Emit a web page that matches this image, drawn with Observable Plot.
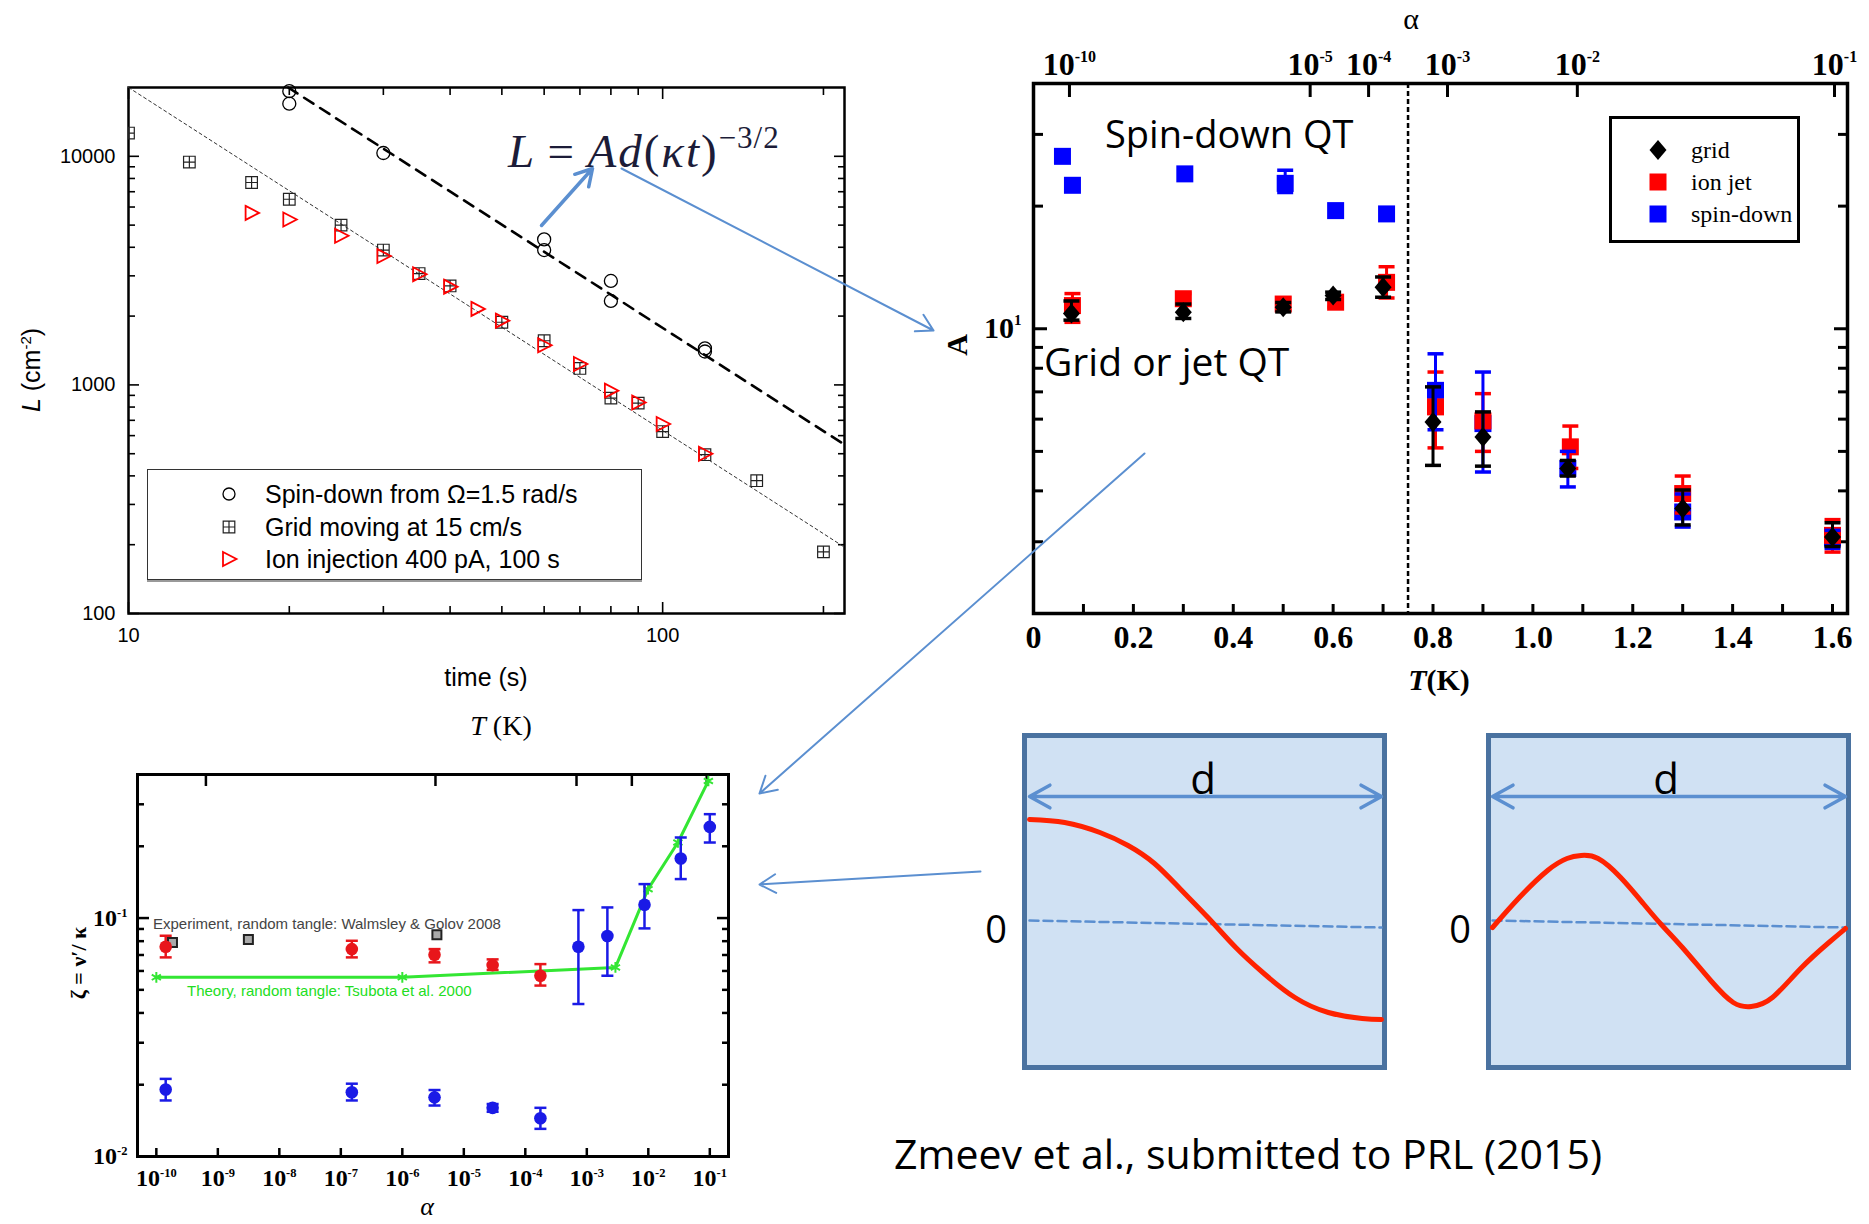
<!DOCTYPE html>
<html><head><meta charset="utf-8">
<script src="https://cdn.jsdelivr.net/npm/d3@7"></script>
<script src="https://cdn.jsdelivr.net/npm/@observablehq/plot@0.6"></script>
<style>
body{margin:0;background:#fff;}
#page{position:relative;width:1869px;height:1224px;overflow:hidden;background:#fff;}
</style></head><body><div id="page"></div>
<script>
// ================= DATA =================
// Panel 1: L(t)
const spinTime = [20, 20, 30, 60, 60, 80, 80, 120, 120];
const spinL    = [19280, 16990, 10340, 4330, 3890, 2850, 2330, 1445, 1400];
const gridTime = [10, 13, 17, 20, 25, 30, 35, 40, 50, 60, 70, 80, 90, 100, 120, 150, 200];
const gridL    = [12640, 9440, 7680, 6490, 5000, 3890, 3070, 2710, 1880, 1560, 1180, 875, 832, 625, 495, 381, 186];
const ionTime  = [17, 20, 25, 30, 35, 40, 45, 50, 60, 70, 80, 90, 100, 120];
const ionL     = [5655, 5290, 4490, 3660, 3050, 2690, 2150, 1910, 1490, 1235, 944, 837, 675, 500];
const spinFitTime = [19.9, 219], spinFitL = [20000, 548];
const gridFitTime = [10, 219],   gridFitL = [20000, 195];
const p1XTicks = [10, 100], p1XTickLabels = ["10", "100"];
const p1YTicks = [100, 1000, 10000], p1YTickLabels = ["100", "1000", "10000"];
const p1LegendLabels = ["Spin-down from \u03A9=1.5 rad/s", "Grid moving at 15 cm/s", "Ion injection 400 pA, 100 s"];

// Panel 2: A(T)
const gridT  = [0.076, 0.30, 0.50, 0.60, 0.70, 0.80, 0.90, 1.07, 1.30, 1.60];
const gridA  = [10.9, 10.98, 11.3, 12.07, 12.65, 5.90, 5.42, 4.54, 3.62, 3.08];
const gridLo = [10.5, 10.6, 11.0, 11.8, 11.95, 4.62, 4.6, 4.35, 3.3, 2.92];
const gridHi = [11.7, 11.5, 11.6, 12.3, 13.4, 7.2, 6.25, 4.75, 4.02, 3.34];
const jetT   = [0.078, 0.30, 0.50, 0.605, 0.707, 0.805, 0.90, 1.075, 1.30, 1.60];
const jetA   = [11.4, 11.85, 11.5, 11.62, 13.0, 6.43, 5.94, 5.13, 3.94, 3.11];
const jetLo  = [10.37, 11.5, 11.1, 11.3, 11.9, 5.1, 5.0, 4.54, 3.53, 2.83];
const jetHi  = [12.2, 12.2, 11.9, 12.0, 14.2, 7.83, 6.93, 5.77, 4.35, 3.40];
const sdT    = [0.058, 0.078, 0.303, 0.504, 0.605, 0.707, 0.805, 0.90, 1.07, 1.30, 1.60];
const sdA    = [26.5, 22.5, 24.0, 22.75, 19.5, 19.14, 7.06, 5.85, 4.54, 3.55, 3.06];
const sdLo   = [null, null, null, 21.6, null, null, 5.65, 4.45, 4.09, 3.26, 2.89];
const sdHi   = [null, null, null, 24.5, null, null, 8.68, 7.83, 5.0, 3.93, 3.2];
const p2Boundary = [0.75];
const p2TTicks = [0, 0.2, 0.4, 0.6, 0.8, 1.0, 1.2, 1.4, 1.6];
const p2TTickLabels = ["0", "0.2", "0.4", "0.6", "0.8", "1.0", "1.2", "1.4", "1.6"];
const p2TMinor = [0.1, 0.3, 0.5, 0.7, 0.9, 1.1, 1.3, 1.5];
const p2AlphaTickT = [0.072, 0.554, 0.671, 0.829, 1.089, 1.604];
const p2AlphaTickLabels = ["10^-10", "10^-5", "10^-4", "10^-3", "10^-2", "10^-1"];
const p2YTicks = [10], p2YTickLabels = ["10^1"];
const p2YMinor = [2, 3, 4, 5, 6, 7, 8, 9, 20, 30];
const p2LegendLabels = ["grid", "ion jet", "spin-down"];

// Panel 3: zeta(alpha)
const jetAlpha = [1.42e-10, 1.51e-7, 3.34e-6, 2.94e-5, 1.76e-4];
const jetZeta  = [0.0758, 0.0741, 0.0702, 0.0635, 0.0573];
const jetZLo   = [0.0684, 0.0684, 0.0652, 0.0606, 0.0521];
const jetZHi   = [0.0843, 0.0803, 0.0741, 0.0671, 0.0641];
const sdAlpha  = [1.42e-10, 1.51e-7, 3.34e-6, 2.94e-5, 1.76e-4, 7.3e-4, 2.16e-3, 8.67e-3, 0.0337, 0.1];
const sdZeta   = [0.0191, 0.0186, 0.0177, 0.0160, 0.01447, 0.0758, 0.0841, 0.1137, 0.1777, 0.2412];
const sdZLo    = [0.01718, 0.01718, 0.01636, 0.0154, 0.01306, 0.0436, 0.0573, 0.0905, 0.1457, 0.2074];
const sdZHi    = [0.02116, 0.0202, 0.0190, 0.0166, 0.0160, 0.108, 0.1108, 0.1388, 0.2177, 0.2727];
const wgAlpha  = [1.83e-10, 3.14e-9, 3.65e-6];
const wgZeta   = [0.079, 0.0813, 0.0851];
const thAlpha  = [1e-10, 1e-6, 2.92e-3, 9.9e-3, 0.0303, 0.0948];
const thZeta   = [0.0564, 0.0564, 0.0621, 0.1322, 0.2074, 0.3759];
const p3XTicks = [1e-10, 1e-9, 1e-8, 1e-7, 1e-6, 1e-5, 1e-4, 1e-3, 1e-2, 1e-1];
const p3XTickLabels = ["10^-10", "10^-9", "10^-8", "10^-7", "10^-6", "10^-5", "10^-4", "10^-3", "10^-2", "10^-1"];
const p3YTicks = [0.01, 0.1], p3YTickLabels = ["10^-2", "10^-1"];
const p3TopAlpha = [6.4e-10, 3.46e-6, 6.8e-4, 5.4e-3, 8.9e-2];
const p3TopLabels = ["0.1", "0.5", "0.8", "1.0", "1.6"];

// Panel 4: sketches (x as fraction of d, y in arbitrary units)
const sk1F = [0.00, 0.10, 0.20, 0.28, 0.355, 0.427, 0.507, 0.586, 0.666, 0.754, 0.849, 0.945, 1.0];
const sk1V = [1.03, 1.00, 0.90, 0.77, 0.59, 0.34, 0.05, -0.25, -0.51, -0.75, -0.90, -0.96, -0.97];
const sk2F = [0.0, 0.076, 0.156, 0.211, 0.251, 0.299, 0.363, 0.427, 0.478, 0.538, 0.618, 0.682, 0.733, 0.793, 0.873, 0.953, 1.0];
const sk2V = [-0.05, 0.25, 0.52, 0.64, 0.67, 0.64, 0.45, 0.19, -0.02, -0.25, -0.58, -0.80, -0.84, -0.75, -0.46, -0.20, -0.06];
const skZeroF = [0, 1], skZeroV = [0.02, -0.05];
const skDLevel = 1.26;

// ================= HELPERS =================
const page = document.getElementById("page");
function addSvg(svg, left, top) {
  svg.style.position = "absolute"; svg.style.left = left + "px"; svg.style.top = top + "px";
  svg.style.maxWidth = "none"; page.appendChild(svg);
}
function textAt(html, x, y, css, opts = {}) {
  const d = document.createElement("div");
  d.innerHTML = html;
  const tx = opts.align === "left" ? "0" : "-50%";
  d.style.cssText = `position:absolute;left:${x}px;top:${y}px;transform:translate(${tx},-50%)${opts.rotate ? ` rotate(${opts.rotate}deg)` : ""};white-space:nowrap;line-height:1;${css}`;
  page.appendChild(d);
  return d;
}
// turn "10^-10" labels into real superscripts with tspans
function supify(svg, rise, scale) {
  const ns = "http://www.w3.org/2000/svg";
  svg.querySelectorAll("text").forEach(t => {
    const m = t.textContent.match(/^(\d+)\^(-?\d+)$/);
    if (!m) return;
    t.textContent = "";
    const b = document.createElementNS(ns, "tspan"); b.textContent = m[1]; t.appendChild(b);
    const e = document.createElementNS(ns, "tspan"); e.textContent = m[2];
    e.setAttribute("dy", -rise); e.setAttribute("font-size", scale + "em"); t.appendChild(e);
  });
}
const zip = (xs, ys, kx = "x", ky = "y") => xs.map((v, i) => ({[kx]: v, [ky]: ys[i]}));
const labelMap = (ticks, labels) => { const m = new Map(ticks.map((t, i) => [t, labels[i]])); return d => m.get(d) ?? ""; };
function logMinor(lo, hi) {
  const out = [];
  for (let e = Math.floor(Math.log10(lo)); e <= Math.ceil(Math.log10(hi)); e++)
    for (let k = 2; k <= 9; k++) { const v = k * Math.pow(10, e); if (v > lo * 1.0001 && v < hi * 0.9999) out.push(v); }
  return out;
}
const none = () => "";
function tickAxes(axisFn, anchors, ticks, size, sw) {
  return anchors.map(a => axisFn({anchor: a, ticks, tickSize: -size, tickFormat: none, label: null, strokeWidth: sw}));
}
// custom symbols
const sqCross = {draw(c) { const s = 5.8; c.moveTo(-s, -s); c.lineTo(s, -s); c.lineTo(s, s); c.lineTo(-s, s); c.closePath(); c.moveTo(-s, 0); c.lineTo(s, 0); c.moveTo(0, -s); c.lineTo(0, s); }};
const triRight = {draw(c) { c.moveTo(-6, -7); c.lineTo(7.5, 0); c.lineTo(-6, 7); c.closePath(); }};
const diamondSym = {draw(c) { c.moveTo(0, -10); c.lineTo(8.5, 0); c.lineTo(0, 10); c.lineTo(-8.5, 0); c.closePath(); }};
const squareSym = s => ({draw(c) { c.rect(-s, -s, 2 * s, 2 * s); }});
const capSym = w => ({draw(c) { c.moveTo(-w, 0); c.lineTo(w, 0); }});

const sans = "'Liberation Sans', Arial, sans-serif";
const serif = "'Liberation Serif', 'Times New Roman', serif";
const cal = "'Open Sans', 'Noto Sans', sans-serif";

// ================= PANEL 1 =================
{
  const p1XMinor = logMinor(10, 219), p1YMinor = logMinor(100, 20000);
  const spin = zip(spinTime, spinL, "t", "L"), grid = zip(gridTime, gridL, "t", "L"), ion = zip(ionTime, ionL, "t", "L");
  const p1 = Plot.plot({
    width: 870, height: 700, marginLeft: 128, marginRight: 26, marginTop: 87, marginBottom: 87,
    style: {background: "transparent", color: "#000", fontFamily: sans, overflow: "visible"},
    x: {type: "log", domain: [10, 219], axis: null},
    y: {type: "log", domain: [100, 20000], axis: null},
    marks: [
      ...tickAxes(Plot.axisX, ["bottom", "top"], p1XTicks, 11, 1.6),
      ...tickAxes(Plot.axisX, ["bottom", "top"], p1XMinor, 7, 1.6),
      ...tickAxes(Plot.axisY, ["left", "right"], p1YTicks, 11, 1.6),
      ...tickAxes(Plot.axisY, ["left", "right"], p1YMinor, 7, 1.6),
      Plot.axisX({anchor: "bottom", ticks: p1XTicks, tickSize: 0, tickPadding: 14, tickFormat: labelMap(p1XTicks, p1XTickLabels), fontSize: 20, label: null}),
      Plot.axisY({anchor: "left", ticks: p1YTicks, tickSize: 0, tickPadding: 13, tickFormat: labelMap(p1YTicks, p1YTickLabels), fontSize: 20, label: null}),
      Plot.frame({stroke: "#000", strokeWidth: 2.5}),
      Plot.line(zip(gridFitTime, gridFitL, "t", "L"), {x: "t", y: "L", stroke: "#333", strokeWidth: 1, strokeDasharray: "3,3"}),
      Plot.line(zip(spinFitTime, spinFitL, "t", "L"), {x: "t", y: "L", stroke: "#000", strokeWidth: 2.6, strokeDasharray: "11,8"}),
      Plot.dot(grid, {x: "t", y: "L", symbol: sqCross, r: 5, fill: "none", stroke: "#222", strokeWidth: 1.2, clip: true}),
      Plot.dot(spin, {x: "t", y: "L", r: 6.5, fill: "none", stroke: "#000", strokeWidth: 1.3}),
      Plot.dot(ion, {x: "t", y: "L", symbol: triRight, r: 5, fill: "none", stroke: "#ff0000", strokeWidth: 1.8})
    ]
  });
  addSvg(p1, 0, 0);
  textAt("time (s)", 486, 677, `font-family:${sans};font-size:25px;`);
  textAt("<i>L</i> (cm<sup style='font-size:15px;vertical-align:9px'>-2</sup>)", 31, 370, `font-family:${sans};font-size:25px;`, {rotate: -90});
  const lg = document.createElement("div");
  lg.style.cssText = "position:absolute;left:147px;top:469px;width:495px;height:111px;border:1.5px solid #333;box-sizing:border-box;box-shadow:0 2px 0 #999;";
  const sw = [
    `<circle cx="10" cy="10" r="6" fill="none" stroke="#000" stroke-width="1.3"/>`,
    `<path d="M4.2,4.2H15.8V15.8H4.2Z M4.2,10H15.8 M10,4.2V15.8" fill="none" stroke="#222" stroke-width="1.2"/>`,
    `<path d="M4,3L17.5,10L4,17Z" fill="none" stroke="#ff0000" stroke-width="1.8"/>`
  ];
  [24, 57, 89].forEach((cy, i) => {
    lg.insertAdjacentHTML("beforeend", `<svg width="20" height="20" style="position:absolute;left:71px;top:${cy - 10}px">${sw[i]}</svg>`);
    lg.insertAdjacentHTML("beforeend", `<div style="position:absolute;left:117px;top:${cy}px;transform:translateY(-50%);font-family:${sans};font-size:25px;line-height:1;white-space:nowrap">${p1LegendLabels[i]}</div>`);
  });
  page.appendChild(lg);
  textAt("<i>L</i>&#8201;=&#8201;<i>Ad</i>(<i>\u03BAt</i>)<sup style='font-size:31px;vertical-align:19px;font-style:normal;letter-spacing:1px'>\u22123/2</sup>", 508, 148,
    `font-family:${serif};font-size:47px;color:#1c1c38;letter-spacing:2px;`, {align: "left"});
}

// ================= PANEL 2 =================
{
  const rows = (T, A, lo, hi) => T.map((t, i) => ({T: t, A: A[i], lo: lo[i], hi: hi[i]}));
  const g = rows(gridT, gridA, gridLo, gridHi), j = rows(jetT, jetA, jetLo, jetHi), s = rows(sdT, sdA, sdLo, sdHi);
  const withErr = d => d.filter(r => r.lo != null && r.hi != null);
  const errMarks = (d, color) => [
    Plot.ruleX(withErr(d), {x: "T", y1: "lo", y2: "hi", stroke: color, strokeWidth: 3}),
    Plot.dot(withErr(d), {x: "T", y: "lo", symbol: capSym(8), r: 5, fill: "none", stroke: color, strokeWidth: 3.5}),
    Plot.dot(withErr(d), {x: "T", y: "hi", symbol: capSym(8), r: 5, fill: "none", stroke: color, strokeWidth: 3.5})
  ];
  const p2 = Plot.plot({
    width: 909, height: 700, marginLeft: 73, marginRight: 22, marginTop: 83, marginBottom: 87,
    style: {background: "transparent", color: "#000", fontFamily: serif, overflow: "visible"},
    x: {domain: [0, 1.63], axis: null},
    y: {type: "log", domain: [2, 40], axis: null},
    marks: [
      ...tickAxes(Plot.axisX, ["bottom"], p2TTicks.concat(p2TMinor), 9, 3),
      ...tickAxes(Plot.axisX, ["top"], p2AlphaTickT, 13, 3),
      ...tickAxes(Plot.axisY, ["left", "right"], p2YTicks, 14, 3),
      ...tickAxes(Plot.axisY, ["left", "right"], p2YMinor, 10, 3),
      Plot.axisX({anchor: "bottom", ticks: p2TTicks, tickSize: 0, tickPadding: 12, tickFormat: labelMap(p2TTicks, p2TTickLabels), fontSize: 32, fontWeight: "bold", label: null}),
      Plot.axisX({anchor: "top", ticks: p2AlphaTickT, tickSize: 0, tickPadding: 9, tickFormat: labelMap(p2AlphaTickT, p2AlphaTickLabels), fontSize: 32, fontWeight: "bold", label: null}),
      Plot.axisY({anchor: "left", ticks: p2YTicks, tickSize: 0, tickPadding: 12, tickFormat: labelMap(p2YTicks, p2YTickLabels), fontSize: 30, fontWeight: "bold", label: null}),
      Plot.ruleX(p2Boundary, {stroke: "#000", strokeWidth: 2.5, strokeDasharray: "5,3"}),
      Plot.frame({stroke: "#000", strokeWidth: 3.5}),
      Plot.dot(s, {x: "T", y: "A", symbol: squareSym(8.5), r: 5, fill: "#0000ff", stroke: "none"}),
      Plot.dot(j, {x: "T", y: "A", symbol: squareSym(8.5), r: 5, fill: "#ff0000", stroke: "none"}),
      ...errMarks(j, "#ff0000"),
      ...errMarks(s, "#0000ff"),
      ...errMarks(g, "#000"),
      Plot.dot(g, {x: "T", y: "A", symbol: diamondSym, r: 5, fill: "#000", stroke: "none"})
    ]
  });
  supify(p2, 13, 0.5);
  addSvg(p2, 960, 0);
  textAt("\u03B1", 1411, 19, `font-family:${serif};font-size:30px;`);
  textAt("<i>T</i>(K)", 1439, 680, `font-family:${serif};font-size:30px;font-weight:bold;`);
  textAt("A", 957, 345, `font-family:${serif};font-size:30px;font-weight:bold;`, {rotate: -90});
  textAt("Spin-down QT", 1105, 133, `font-family:${cal};font-size:38px;`, {align: "left"});
  textAt("Grid or jet QT", 1044, 360, `font-family:${cal};font-size:39px;`, {align: "left"});
  const lg = document.createElement("div");
  lg.style.cssText = "position:absolute;left:1609px;top:116px;width:191px;height:127px;border:3.5px solid #000;box-sizing:border-box;";
  const sw = [
    `<path d="M11,1L19.5,11L11,21L2.5,11Z" fill="#000"/>`,
    `<rect x="2.5" y="2.5" width="17" height="17" fill="#ff0000"/>`,
    `<rect x="2.5" y="2.5" width="17" height="17" fill="#0000ff"/>`
  ];
  [31, 63, 95].forEach((cy, i) => {
    lg.insertAdjacentHTML("beforeend", `<svg width="22" height="22" style="position:absolute;left:35px;top:${cy - 11}px">${sw[i]}</svg>`);
    lg.insertAdjacentHTML("beforeend", `<div style="position:absolute;left:79px;top:${cy}px;transform:translateY(-50%);font-family:${serif};font-size:24px;line-height:1;white-space:nowrap">${p2LegendLabels[i]}</div>`);
  });
  page.appendChild(lg);
}

// ================= PANEL 3 =================
{
  const rows = (a, z, lo, hi) => a.map((v, i) => ({a: v, z: z[i], lo: lo ? lo[i] : null, hi: hi ? hi[i] : null}));
  const jet = rows(jetAlpha, jetZeta, jetZLo, jetZHi), sd = rows(sdAlpha, sdZeta, sdZLo, sdZHi);
  const wg = rows(wgAlpha, wgZeta), th = rows(thAlpha, thZeta);
  const errMarks = (d, color) => [
    Plot.ruleX(d, {x: "a", y1: "lo", y2: "hi", stroke: color, strokeWidth: 2.5}),
    Plot.dot(d, {x: "a", y: "lo", symbol: capSym(6), r: 4, fill: "none", stroke: color, strokeWidth: 2.5}),
    Plot.dot(d, {x: "a", y: "hi", symbol: capSym(6), r: 4, fill: "none", stroke: color, strokeWidth: 2.5})
  ];
  const p3YMinor = logMinor(0.01, 0.4);
  const p3 = Plot.plot({
    width: 760, height: 524, marginLeft: 137, marginRight: 32, marginTop: 74, marginBottom: 68,
    style: {background: "transparent", color: "#000", fontFamily: serif, overflow: "visible"},
    x: {type: "log", domain: [4.94e-11, 0.2014], axis: null},
    y: {type: "log", domain: [0.01, 0.4], axis: null},
    marks: [
      ...tickAxes(Plot.axisX, ["bottom"], p3XTicks, 8, 2.5),
      ...tickAxes(Plot.axisX, ["top"], p3TopAlpha, 11, 2.5),
      ...tickAxes(Plot.axisY, ["left", "right"], [0.1], 12, 2.5),
      ...tickAxes(Plot.axisY, ["left", "right"], p3YMinor, 7, 2.5),
      Plot.axisX({anchor: "bottom", ticks: p3XTicks, tickSize: 0, tickPadding: 12, tickFormat: labelMap(p3XTicks, p3XTickLabels), fontSize: 24, fontWeight: "bold", label: null}),
      Plot.axisX({anchor: "top", ticks: p3TopAlpha, tickSize: 0, tickPadding: 10, tickFormat: labelMap(p3TopAlpha, p3TopLabels), fontSize: 25, fontWeight: "bold", label: null}),
      Plot.axisY({anchor: "left", ticks: p3YTicks, tickSize: 0, tickPadding: 10, tickFormat: labelMap(p3YTicks, p3YTickLabels), fontSize: 24, fontWeight: "bold", label: null}),
      Plot.frame({stroke: "#000", strokeWidth: 3}),
      Plot.line(th, {x: "a", y: "z", stroke: "#33e633", strokeWidth: 3}),
      Plot.dot(th, {x: "a", y: "z", symbol: "asterisk", r: 5, stroke: "#33e633", strokeWidth: 2}),
      Plot.dot(wg, {x: "a", y: "z", symbol: squareSym(4.5), r: 4, fill: "#aaa", stroke: "#222", strokeWidth: 2}),
      ...errMarks(jet, "#e8161b"),
      ...errMarks(sd, "#1a1ae6"),
      Plot.dot(jet, {x: "a", y: "z", r: 6.3, fill: "#e8161b", stroke: "none"}),
      Plot.dot(sd, {x: "a", y: "z", r: 6.3, fill: "#1a1ae6", stroke: "none"})
    ]
  });
  supify(p3, 9, 0.52);
  addSvg(p3, 0, 700);
  textAt("<i>T</i> (K)", 501, 726, `font-family:${serif};font-size:28px;`);
  textAt("<i>\u03B1</i>", 427, 1207, `font-family:${serif};font-size:26px;`);
  textAt("\u03B6 = \u03BD\u2032/ \u03BA", 79, 963, `font-family:${serif};font-size:22px;font-weight:bold;`, {rotate: -90});
  textAt("Experiment, random tangle: Walmsley &amp; Golov 2008", 153, 923, `font-family:${sans};font-size:15px;color:#444;`, {align: "left"});
  textAt("Theory, random tangle: Tsubota et al. 2000", 187, 990, `font-family:${sans};font-size:15px;color:#22dd22;`, {align: "left"});
}

// ================= PANEL 4: sketches =================
function sketch(F, V, xDomain) {
  return Plot.plot({
    width: 370, height: 342, marginLeft: 5, marginRight: 5, marginTop: 5, marginBottom: 5,
    style: {background: "transparent", overflow: "visible"},
    x: {domain: xDomain, axis: null},
    y: {domain: [-1.45, 1.87], axis: null},
    marks: [
      Plot.frame({fill: "#d0e1f3", stroke: "#4a72a0", strokeWidth: 5}),
      Plot.line(zip(skZeroF, skZeroV), {x: "x", y: "y", stroke: "#5b8fd0", strokeWidth: 2.5, strokeDasharray: "9,5"}),
      Plot.line(zip(F, V), {x: "x", y: "y", curve: "natural", stroke: "#ff2200", strokeWidth: 5}),
      Plot.arrow([{x1: 0.5, x2: 0}, {x1: 0.5, x2: 1}], {x1: "x1", x2: "x2", y1: () => skDLevel, y2: () => skDLevel, stroke: "#5b8fd0", strokeWidth: 3.5, headLength: 10, headAngle: 58})
    ]
  });
}
addSvg(sketch(sk1F, sk1V, [-0.0142, 1.0085]), 1019, 730);
addSvg(sketch(sk2F, sk2V, [-0.0114, 1.0085]), 1483, 730);
textAt("d", 1203, 778, `font-family:${cal};font-size:42px;`);
textAt("d", 1666, 778, `font-family:${cal};font-size:42px;`);
textAt("0", 996, 928, `font-family:${cal};font-size:38px;`);
textAt("0", 1460, 928, `font-family:${cal};font-size:38px;`);
textAt("Zmeev et al., submitted to PRL (2015)", 894, 1153, `font-family:${cal};font-size:41px;`, {align: "left"});

// ================= connector arrows (annotation overlay) =================
{
  const ov = Plot.plot({
    width: 1869, height: 1224, margin: 0,
    style: {background: "transparent", overflow: "visible", pointerEvents: "none"},
    x: {type: "identity", axis: null}, y: {type: "identity", axis: null},
    marks: [
      Plot.arrow([{x1: 541, y1: 225, x2: 592, y2: 168}], {x1: "x1", y1: "y1", x2: "x2", y2: "y2", stroke: "#5b8fd0", strokeWidth: 3.5, headLength: 8, headAngle: 60}),
      Plot.arrow([
        {x1: 621, y1: 168, x2: 933, y2: 330},
        {x1: 1144, y1: 453, x2: 759, y2: 793},
        {x1: 980, y1: 871, x2: 759, y2: 884}
      ], {x1: "x1", y1: "y1", x2: "x2", y2: "y2", stroke: "#5b8fd0", strokeWidth: 2, headLength: 14, headAngle: 60})
    ]
  });
  addSvg(ov, 0, 0);
}
</script></body></html>
